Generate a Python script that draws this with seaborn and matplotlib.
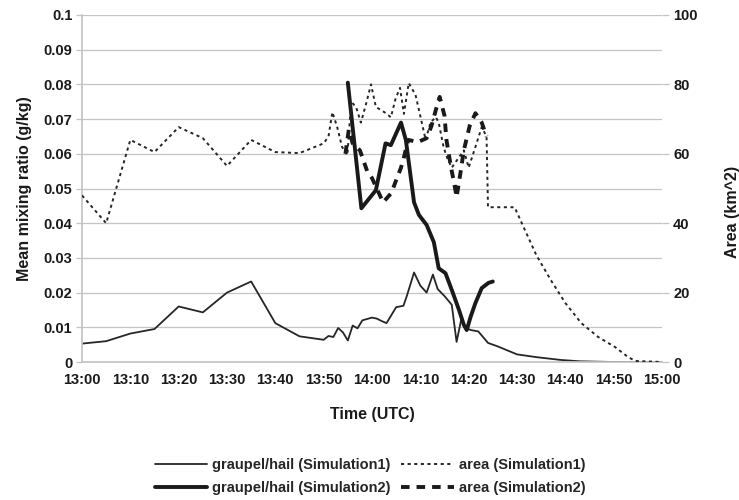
import matplotlib
matplotlib.use("Agg")
import matplotlib.pyplot as plt
import seaborn as sns
import pandas as pd

# ---- data (minutes after 13:00) ----
g1_t = [0, 5, 10, 15, 20, 25, 30, 35, 40, 45, 50, 51, 52, 53, 54, 55, 56, 57, 58, 60, 61, 62, 63,
        65, 66.5, 67.2, 68.7, 70, 71.3, 72.6, 73.6, 75, 76.5, 77.5, 78.5, 79.3, 80.5, 82, 84, 86,
        90, 94, 99, 103, 110, 120]
g1_v = [0.0053, 0.006, 0.0082, 0.0095, 0.016, 0.0143, 0.020, 0.0232, 0.0112, 0.0074, 0.0064,
        0.0075, 0.0072, 0.0098, 0.0085, 0.0062, 0.0105, 0.0097, 0.012, 0.0128, 0.0125, 0.0118,
        0.0112, 0.0158, 0.0162, 0.019, 0.0258, 0.022, 0.020, 0.0252, 0.021, 0.019, 0.0165,
        0.0058, 0.0125, 0.0098, 0.0092, 0.0088, 0.0055, 0.0045, 0.0022, 0.0014, 0.0006, 0.0002,
        0.0, 0.0]

g2_t = [55, 57.8, 60.8, 62.8, 63.9, 66, 67, 68.7, 69.7, 71.3, 72.8, 73.8, 75.2, 76.5, 78, 79,
        79.6, 80.4, 81.4, 82.7, 84.1, 85]
g2_v = [0.0805, 0.0443, 0.0495, 0.063, 0.0625, 0.069, 0.064, 0.046, 0.0424, 0.0395, 0.0345,
        0.027, 0.0256, 0.0208, 0.015, 0.0107, 0.0092, 0.013, 0.017, 0.0213, 0.0228, 0.0232]

a1_t = [0, 5, 10, 15, 20, 25, 30, 35, 40, 45, 50, 51, 51.8, 52.8, 53.8, 54.9, 55.7, 56.7, 57.7,
        58.7, 59.8, 60.8, 62.9, 63.9, 64.9, 65.8, 66.6, 67.6, 69, 70.3, 71.1, 72.1, 73.2, 73.8,
        74.8, 75.5, 76.5, 78, 79, 80, 81.4, 82.7, 83.7, 84, 89.5, 91, 94, 97, 100, 103.3, 106.8,
        110.3, 113, 114.5, 120]
a1_v = [48, 40, 64, 60.5, 67.7, 64.5, 56.5, 64, 60.5, 60.2, 63, 65, 72, 67.7, 62, 59.6, 75, 73.5,
        69, 74, 80, 73.5, 71.7, 70.5, 76, 79, 71.5, 80.4, 77, 69, 64, 69, 70.6, 69, 62, 59, 56,
        59, 61, 56, 62, 67.7, 65, 44.6, 44.6, 40, 30.8, 23.6, 17, 11.2, 7.2, 4.3, 1.4, 0.3, 0]

a2_t = [54.5, 55.2, 56.0, 57.5, 59.0, 60.0, 62.3, 64.0, 65.0, 66.0, 66.6, 67.5, 69.5, 71.3, 72.3,
        73.2, 74.0, 75.0, 75.4, 76.0, 76.5, 77.0, 77.5, 78.3, 79.0, 80.2, 81.4, 82.7, 83.7]
a2_v = [60, 67, 63, 61, 55, 53, 46, 48.7, 52.4, 56, 59, 64, 63.4, 64.5, 68, 72.6, 76.4, 71, 64,
        59, 55, 51.6, 47.5, 54.5, 61, 68, 71.7, 69, 65]

x_ticks = list(range(0, 121, 10))
x_labels = ["13:00", "13:10", "13:20", "13:30", "13:40", "13:50", "14:00",
            "14:10", "14:20", "14:30", "14:40", "14:50", "15:00"]
left_ticks = [0, 0.01, 0.02, 0.03, 0.04, 0.05, 0.06, 0.07, 0.08, 0.09, 0.1]
left_labels = ["0", "0.01", "0.02", "0.03", "0.04", "0.05", "0.06", "0.07", "0.08", "0.09", "0.1"]
right_ticks = [0, 20, 40, 60, 80, 100]

lab_g1 = "graupel/hail (Simulation1)"
lab_g2 = "graupel/hail (Simulation2)"
lab_a1 = "area (Simulation1)"
lab_a2 = "area (Simulation2)"

# ---- style ----
sns.set_theme(style="white")
plt.rcParams["font.family"] = ["Liberation Sans", "DejaVu Sans"]
plt.rcParams["font.weight"] = "bold"

fig = plt.figure(figsize=(7.39, 5.0), dpi=100)
ax = fig.add_axes([82 / 739, 1 - 362 / 500, (662 - 82) / 739, (362 - 15) / 500])
ax2 = ax.twinx()

dark = "#1a1a1a"
grid_c = "#c4c4c4"

df_g1 = pd.DataFrame({"t": g1_t, "v": g1_v})
df_g2 = pd.DataFrame({"t": g2_t, "v": g2_v})
df_a1 = pd.DataFrame({"t": a1_t, "v": a1_v})
df_a2 = pd.DataFrame({"t": a2_t, "v": a2_v})

sns.lineplot(data=df_g1, x="t", y="v", ax=ax, color="#262626", lw=1.3,
             estimator=None, sort=False, label=lab_g1)
sns.lineplot(data=df_g2, x="t", y="v", ax=ax, color=dark, lw=2.8,
             estimator=None, sort=False, label=lab_g2)
sns.lineplot(data=df_a1, x="t", y="v", ax=ax2, color="#262626", lw=1.4,
             estimator=None, sort=False, label=lab_a1, dashes=False)
sns.lineplot(data=df_a2, x="t", y="v", ax=ax2, color=dark, lw=2.8,
             estimator=None, sort=False, label=lab_a2, dashes=False)

l_a1 = ax2.get_lines()[0]
l_a2 = ax2.get_lines()[1]
l_a1.set_linestyle((0, (1.6, 1.8)))
l_a2.set_linestyle((0, (2.2, 1.8)))

# axes limits / ticks
ax.set_xlim(0, 120)
ax.set_ylim(0, 0.1)
ax2.set_ylim(0, 100)
ax.set_xticks(x_ticks)
ax.set_xticklabels(x_labels)
ax.set_yticks(left_ticks)
ax.set_yticklabels(left_labels)
ax2.set_yticks(right_ticks)

for a in (ax, ax2):
    for s in a.spines.values():
        s.set_visible(False)
ax.spines["left"].set_visible(True)
ax.spines["left"].set_color(grid_c)
ax.spines["bottom"].set_visible(True)
ax.spines["bottom"].set_color(grid_c)

ax.yaxis.grid(True, color=grid_c, lw=0.9)
ax.xaxis.grid(False)
ax2.grid(False)
ax.set_axisbelow(True)

ax.tick_params(axis="x", direction="inout", length=6, color=grid_c, width=0.9,
               labelsize=10.5, labelcolor=dark, pad=5)
ax.tick_params(axis="y", direction="out", length=4, color=grid_c, width=0.9,
               labelsize=10.5, labelcolor=dark, pad=3)
ax2.tick_params(axis="y", direction="out", length=5, color=grid_c, width=0.9,
                labelsize=10.5, labelcolor=dark, pad=3)
for lbl in ax.get_xticklabels() + ax.get_yticklabels() + ax2.get_yticklabels():
    lbl.set_fontweight("bold")

ax.set_xlabel("Time (UTC)", fontsize=11.5, fontweight="bold", color=dark, labelpad=14)
ax.set_ylabel("Mean mixing ratio (g/kg)", fontsize=11.5, fontweight="bold", color=dark,
              labelpad=8)
ax2.set_ylabel("Area (km^2)", fontsize=11.5, fontweight="bold", color=dark)
ax2.yaxis.set_label_coords((725 - 82) / 580, 1 - (212 - 15) / 347)

# legend
h1, lb1 = ax.get_legend_handles_labels()
h2, lb2 = ax2.get_legend_handles_labels()
ax.get_legend().remove()
ax2.get_legend().remove()
handles = [h1[0], h1[1], h2[0], h2[1]]
labels = [lb1[0], lb1[1], lb2[0], lb2[1]]
fig.legend(handles, labels, loc="center", bbox_to_anchor=(370 / 739, 1 - 476.5 / 500),
           ncol=2, frameon=False, handlelength=3.6, columnspacing=0.7,
           handletextpad=0.35, labelspacing=0.58, prop={"weight": "bold", "size": 10.5})

fig.savefig("out.png", dpi=100)
